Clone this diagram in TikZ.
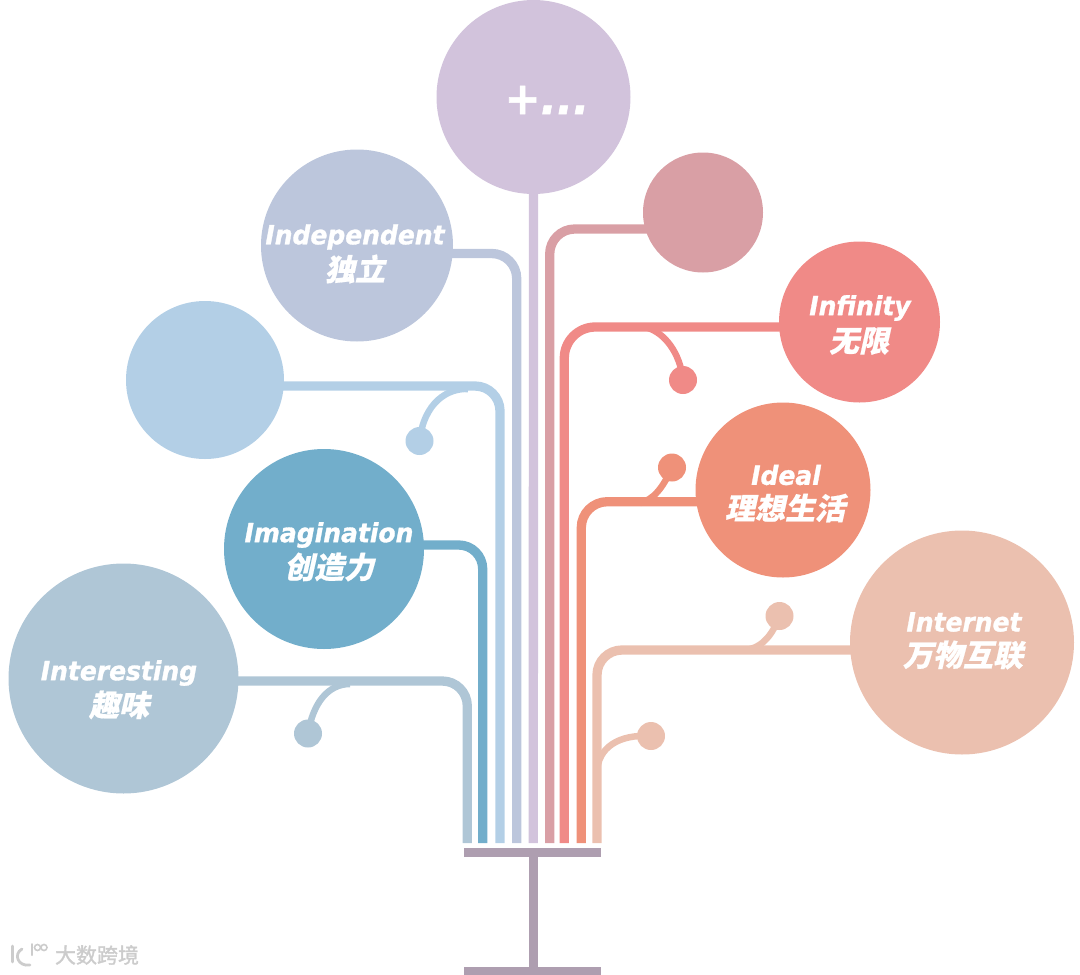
\documentclass[tikz,border=0pt]{standalone}
\usepackage{fontspec}
\setmainfont{DejaVu Sans}
\newfontfamily\enf[FakeBold=1.2,FakeStretch=0.95]{DejaVu Sans}
\newfontfamily\cjk[FakeSlant=0.22,FakeBold=0.6]{Noto Sans CJK SC}
\newfontfamily\cjkw[FakeBold=1.5]{Noto Sans CJK SC}
\usetikzlibrary{backgrounds}
\definecolor{cint}{HTML}{AFC6D6}
\definecolor{cima}{HTML}{72AECB}
\definecolor{cblu}{HTML}{B3CFE6}
\definecolor{cind}{HTML}{BCC6DC}
\definecolor{cplu}{HTML}{D2C3DC}
\definecolor{cros}{HTML}{D99FA5}
\definecolor{cinf}{HTML}{F08A87}
\definecolor{cide}{HTML}{EF9179}
\definecolor{cnet}{HTML}{EBC0AF}
\definecolor{cbas}{HTML}{AE9EB0}
\tikzset{
  disc/.style={circle,fill=#1,inner sep=0pt,outer sep=0pt},
  trunk/.style={line width=9.3pt,draw=#1},
  twig/.style={line width=6.5pt,draw=#1},
  en/.style={text=white,font=\fontsize{#1}{#1}\selectfont\enf\bfseries\itshape,inner sep=0pt},
  zh/.style={text=white,font=\fontsize{#1}{#1}\selectfont\bfseries\cjk,inner sep=0pt},
  beam/.style={fill=cbas,inner sep=0pt,outer sep=0pt},
  logo/.style={draw=black!20,line width=2.8pt,line cap=round},
}
\begin{document}
\begin{tikzpicture}[x=1pt,y=-1pt]
\useasboundingbox (0,0) rectangle (1080,975);
% circles
\node[disc=cplu,minimum size=194pt] (plus) at (533.5,97) {};
\node[disc=cind,minimum size=192pt] (indep) at (357,245.5) {};
\node[disc=cros,minimum size=120pt] (rose) at (703,212.5) {};
\node[disc=cinf,minimum size=161pt] (infin) at (859.5,322) {};
\node[disc=cblu,minimum size=158pt] (blue) at (205,380) {};
\node[disc=cide,minimum size=175pt] (ideal) at (783,490) {};
\node[disc=cima,minimum size=200pt] (imag) at (324,549) {};
\node[disc=cnet,minimum size=224pt] (inter) at (962,642.5) {};
\node[disc=cint,minimum size=230pt] (intg) at (123.5,678.5) {};
% small dots
\node[disc=cinf,minimum size=28pt] (d1) at (683,380) {};
\node[disc=cide,minimum size=28pt] (d2) at (672,467.5) {};
\node[disc=cnet,minimum size=28pt] (d3) at (779.5,616) {};
\node[disc=cnet,minimum size=28pt] (d4) at (651,736) {};
\node[disc=cblu,minimum size=28pt] (d5) at (419.5,441) {};
\node[disc=cint,minimum size=28pt] (d6) at (308,733.5) {};
% base
\node[beam,minimum width=137pt,minimum height=8.6pt] (base1) at (532,852.3) {};
\node[beam,minimum width=137pt,minimum height=8pt] (base2) at (532,971) {};
\draw[line width=9.3pt,draw=cbas] (533.5,852.3) coordinate (s1) -- (533.5,971) coordinate (s2);
% coordinates of the trunks
\coordinate (t1) at (467.3,681);   \coordinate (e1) at (467.3,843);
\coordinate (t2) at (482.7,545);   \coordinate (e2) at (482.7,843);
\coordinate (t3) at (500,386);     \coordinate (e3) at (500,843);
\coordinate (t4) at (516.7,253.5); \coordinate (e4) at (516.7,843);
\coordinate (e5) at (533.3,843);
\coordinate (t6) at (549.7,229);   \coordinate (e6) at (549.7,843);
\coordinate (t7) at (564.3,327);   \coordinate (e7) at (564.3,843);
\coordinate (t8) at (581.3,501.7); \coordinate (e8) at (581.3,843);
\coordinate (t9) at (597,650);     \coordinate (e9) at (597,843);
% twig roots
\coordinate (r1) at (648,328);
\coordinate (r2) at (640,503);
\coordinate (r3) at (750,649);
\coordinate (r4) at (597,772);
\coordinate (r5) at (468,389);
\coordinate (r6) at (350,684);
\begin{scope}[on background layer]
\draw[trunk=cint,rounded corners=25pt] (intg |- t1) -- (t1) -- (e1);
\draw[trunk=cima,rounded corners=24pt] (imag |- t2) -- (t2) -- (e2);
\draw[trunk=cblu,rounded corners=25pt] (blue |- t3) -- (t3) -- (e3);
\draw[trunk=cind,rounded corners=25pt] (indep |- t4) -- (t4) -- (e4);
\draw[trunk=cplu] (plus.center) -- (e5);
\draw[trunk=cros,rounded corners=25pt] (rose |- t6) -- (t6) -- (e6);
\draw[trunk=cinf,rounded corners=31pt] (infin |- t7) -- (t7) -- (e7);
\draw[trunk=cide,rounded corners=26pt] (ideal |- t8) -- (t8) -- (e8);
\draw[trunk=cnet,rounded corners=25pt] (inter |- t9) -- (t9) -- (e9);
\draw[twig=cinf] (r1) .. controls (664,333) and (680,352) .. (d1.center);
\draw[twig=cide] (r2) .. controls (653,500) and (663,488) .. (d2.center);
\draw[twig=cnet] (r3) .. controls (763,646) and (773,634) .. (d3.center);
\draw[twig=cnet] (r4) .. controls (598,748) and (618,734) .. (d4.center);
\draw[twig=cblu] (r5) .. controls (448,388) and (424,402) .. (d5.center);
\draw[twig=cint] (r6) .. controls (328,684) and (313,703) .. (d6.center);
\end{scope}
% texts
\node[en=45] (tp) at (547,100) {+...};
\node[en=26.3] (ti) at (355,237) {Independent};
\node[zh=30] (zi) at (355,269) {独立};
\node[en=26.3] (tf) at (860,308) {Infinity};
\node[zh=30] (zf) at (859,341) {无限};
\node[en=26.3] (td) at (786,475) {Ideal};
\node[zh=30] (zd) at (785,508) {理想生活};
\node[en=26.3] (tm) at (329,535) {Imagination};
\node[zh=30] (zm) at (329,567) {创造力};
\node[en=26.3] (tn) at (964,622) {Internet};
\node[zh=30] (zn) at (963,655) {万物互联};
\node[en=26.3] (tg) at (119,673) {Interesting};
\node[zh=30] (zg) at (119,705) {趣味};
% watermark
\node[text=black!20,font=\fontsize{21}{21}\selectfont\cjkw,inner sep=0pt] (wm) at (97,955) {大数跨境};
\draw[logo] (12.5,946) coordinate (k1) -- (12.5,962) coordinate (k2);
\draw[logo] (22,949) coordinate (k3) .. controls (13,954) and (18,967) .. (30,965) coordinate (k4);
\draw[logo,line width=2pt] (32,944) coordinate (k5) -- (32,955) coordinate (k6);
\draw[logo,line width=1.6pt] (37.5,947.5) circle[radius=3pt];
\draw[logo,line width=1.6pt] (44,947.5) circle[radius=3pt];
\end{tikzpicture}
\end{document}
